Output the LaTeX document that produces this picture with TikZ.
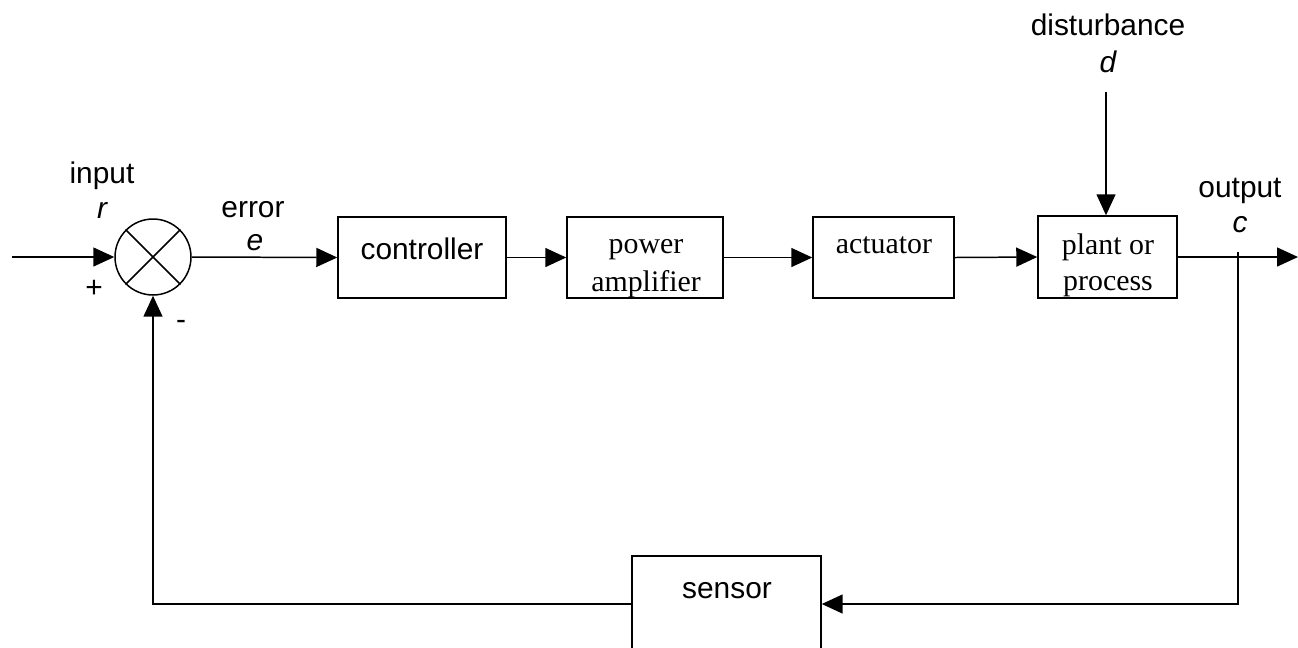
\documentclass[tikz,border=0pt]{standalone}
\usepackage{fontspec}
\setmainfont{Liberation Serif}
\setsansfont{Liberation Sans}
\usetikzlibrary{arrows.meta}

\begin{document}
\begin{tikzpicture}
  [x=0.02cm,y=-0.02cm,line width=0.85pt,
   block/.style={rectangle,draw,inner sep=0pt,minimum height=1.62cm},
   junction/.style={circle,draw,inner sep=0pt,minimum size=1.52cm},
   sans/.style={font=\fontsize{17}{20}\sffamily,anchor=base,inner sep=0pt},
   serif/.style={font=\fontsize{17}{20}\rmfamily,anchor=base,inner sep=0pt},
   var/.style={font=\fontsize{17}{20}\sffamily\itshape,anchor=base,inner sep=0pt},
   signal/.style={-{Triangle[length=0.42cm,width=0.38cm]}}]
  \useasboundingbox (0,0) rectangle (1298,647);
  % summing junction
  \node at (153,257) (sum) [junction] {};
  \draw (sum.north west) -- (sum.south east) (sum.north east) -- (sum.south west);
  % forward path blocks
  \node at (422,257.5) (ctrl) [block,minimum width=3.36cm] {};
  \node at (645,257.5) (pamp) [block,minimum width=3.12cm] {};
  \node at (883.5,257.5) (act) [block,minimum width=2.82cm] {};
  \node at (1107.5,257) (plant) [block,minimum width=2.78cm,minimum height=1.64cm] {};
  \node at (726.5,604) (sensor) [block,minimum width=3.78cm,minimum height=1.92cm] {};
  % texts
  \node at (102,183) (inputtxt) [sans] {input};
  \node at (102,218) (rtxt) [var] {r};
  \node at (253,217) (errortxt) [sans] {error};
  \node at (255,250) (etxt) [var] {e};
  \node at (94,297) (plus) [sans] {+};
  \node at (181,329) (minus) [sans] {-};
  \node at (422,259) (ctrltxt) [sans] {controller};
  \node at (646,253) (powertxt) [serif] {power};
  \node at (646,291) (amptxt) [serif] {amplifier};
  \node at (884,253) (acttxt) [serif] {actuator};
  \node at (1108,254) (planttxt) [serif] {plant or};
  \node at (1108,290) (proctxt) [serif] {process};
  \node at (1108,35) (disttxt) [sans] {disturbance};
  \node at (1108,72) (dtxt) [var] {d};
  \node at (1240,197) (outtxt) [sans] {output};
  \node at (1240,232) (ctxt) [var] {c};
  \node at (727,598) (sensortxt) [sans] {sensor};
  % connectors
  \coordinate (in) at (12,257);
  \coordinate (out) at (1298,257);
  \coordinate (dist) at (1106,92);
  \coordinate (branch) at (1238,252);
  \draw[signal] (in) -- (sum.west);
  \draw[signal] (sum.east) -- (ctrl.west);
  \draw[signal] (ctrl.east) -- (pamp.west);
  \draw[signal] (pamp.east) -- (act.west);
  \draw[signal] (act.east) -- (plant.west);
  \draw[signal] (dist) -- (dist |- plant.north);
  \draw[signal] (plant.east) -- (out);
  \draw[signal] (branch) |- (sensor.east);
  \draw[signal] (sensor.west) -| (sum.south);
\end{tikzpicture}
\end{document}
